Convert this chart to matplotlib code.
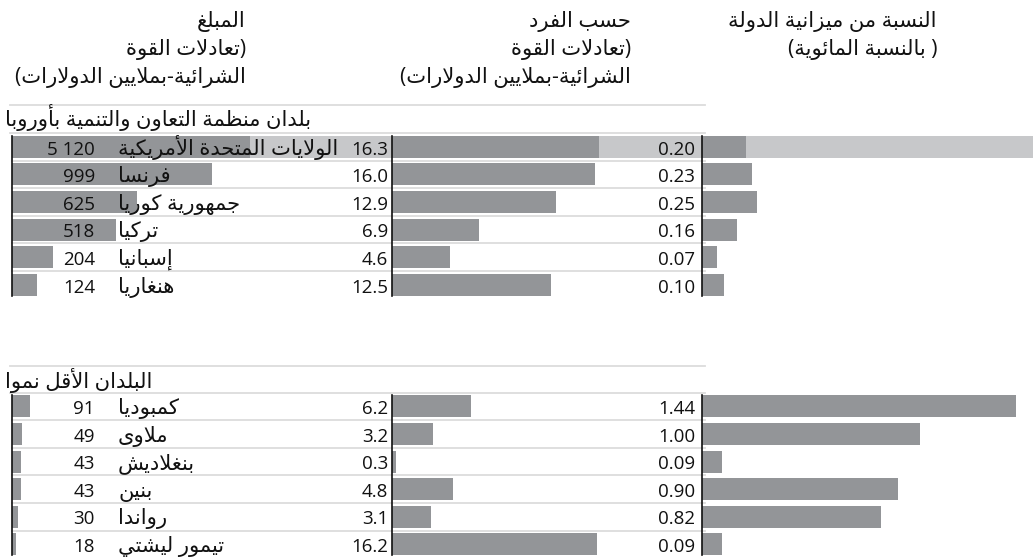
import matplotlib
matplotlib.use("Agg")
import matplotlib.pyplot as plt

# ---------------- data ----------------
group_titles = ["بلدان منظمة التعاون والتنمية بأوروبا", "البلدان الأقل نموا"]

countries_oecd = ["الولايات المتحدة الأمريكية", "فرنسا", "جمهورية كوريا", "تركيا", "إسبانيا", "هنغاريا"]
amount_oecd = [5120, 999, 625, 518, 204, 124]
percap_oecd = [16.3, 16.0, 12.9, 6.9, 4.6, 12.5]
share_oecd = [0.20, 0.23, 0.25, 0.16, 0.07, 0.10]

countries_ldc = ["كمبوديا", "ملاوى", "بنغلاديش", "بنين", "رواندا", "تيمور ليشتي"]
amount_ldc = [91, 49, 43, 43, 30, 18]
percap_ldc = [6.2, 3.2, 0.3, 4.8, 3.1, 16.2]
share_ldc = [1.44, 1.00, 0.09, 0.90, 0.82, 0.09]

highlight_country = "الولايات المتحدة الأمريكية"

header_amount = ["المبلغ", "(تعادلات القوة", "الشرائية-بملايين الدولارات)"]
header_percap = ["حسب الفرد", "(تعادلات القوة", "الشرائية-بملايين الدولارات)"]
header_share = ["النسبة من ميزانية الدولة", "( بالنسبة المائوية)"]

# ---------------- Arabic shaping + RTL ordering (matplotlib has no shaping engine) ----------------
_FORMS = {
    '\u0621': (0xFE80, 1), '\u0622': (0xFE81, 2), '\u0623': (0xFE83, 2), '\u0624': (0xFE85, 2),
    '\u0625': (0xFE87, 2), '\u0626': (0xFE89, 4), '\u0627': (0xFE8D, 2), '\u0628': (0xFE8F, 4),
    '\u0629': (0xFE93, 2), '\u062A': (0xFE95, 4), '\u062B': (0xFE99, 4), '\u062C': (0xFE9D, 4),
    '\u062D': (0xFEA1, 4), '\u062E': (0xFEA5, 4), '\u062F': (0xFEA9, 2), '\u0630': (0xFEAB, 2),
    '\u0631': (0xFEAD, 2), '\u0632': (0xFEAF, 2), '\u0633': (0xFEB1, 4), '\u0634': (0xFEB5, 4),
    '\u0635': (0xFEB9, 4), '\u0636': (0xFEBD, 4), '\u0637': (0xFEC1, 4), '\u0638': (0xFEC5, 4),
    '\u0639': (0xFEC9, 4), '\u063A': (0xFECD, 4), '\u0641': (0xFED1, 4), '\u0642': (0xFED5, 4),
    '\u0643': (0xFED9, 4), '\u0644': (0xFEDD, 4), '\u0645': (0xFEE1, 4), '\u0646': (0xFEE5, 4),
    '\u0647': (0xFEE9, 4), '\u0648': (0xFEED, 2), '\u0649': (0xFEEF, 2), '\u064A': (0xFEF1, 4),
}
_LAMALEF = {'\u0622': 0xFEF5, '\u0623': 0xFEF7, '\u0625': 0xFEF9, '\u0627': 0xFEFB}
_MIRROR = {'(': ')', ')': '('}


def ar(text):
    units = []
    i = 0
    while i < len(text):
        c = text[i]
        if c == '\u0644' and i + 1 < len(text) and text[i + 1] in _LAMALEF:
            units.append(('LA', text[i + 1]))
            i += 2
        else:
            units.append((c, None))
            i += 1
    out = []
    for k, (c, extra) in enumerate(units):
        prev = units[k - 1][0] if k > 0 else None
        nxt = units[k + 1][0] if k + 1 < len(units) else None
        cp = prev in _FORMS and _FORMS[prev][1] == 4
        if c == 'LA':
            base = _LAMALEF[extra]
            out.append(chr(base + 1 if cp else base))
            continue
        if c not in _FORMS:
            out.append(_MIRROR.get(c, c))
            continue
        base, nf = _FORMS[c]
        cn = nf == 4 and (nxt in _FORMS or nxt == 'LA')
        if nf == 1:
            out.append(chr(base))
        elif nf == 2:
            out.append(chr(base + 1 if cp else base))
        else:
            if cp and cn:
                out.append(chr(base + 3))
            elif cp:
                out.append(chr(base + 1))
            elif cn:
                out.append(chr(base + 2))
            else:
                out.append(chr(base))
    return ''.join(reversed(out))


# ---------------- figure ----------------
W, H = 1033, 558
plt.rcParams['font.family'] = ['Open Sans', 'DejaVu Sans']
FS = 13.5        # numbers
FS_AR = 15.2     # Arabic text
TXT = '#111111'
BAR = '#939598'
BAND = '#c7c8ca'
SEP = '#dcdcdc'
fig = plt.figure(figsize=(W / 100, H / 100), dpi=100)


def axes_px(x0, x1, y0, y1, **kw):
    return fig.add_axes([x0 / W, 1 - y1 / H, (x1 - x0) / W, (y1 - y0) / H], **kw)


def ftext(x, y, s, **kw):
    fig.text(x / W, 1 - y / H, s, fontsize=FS_AR, color=TXT, **kw)


# column headers
for i, line in enumerate(header_amount):
    ftext(246, 27 + 28 * i, ar(line), ha='right', va='baseline')
for i, line in enumerate(header_percap):
    ftext(631, 27 + 28 * i, ar(line), ha='right', va='baseline')
for i, line in enumerate(header_share):
    ftext(937, 27 + 28 * i, ar(line), ha='right', va='baseline')

X_AX1, X_AX1_END = 12, 250
X_AX2, X_AX3, X_END = 392, 702, 1033
SEP_END = 705
PX_AMOUNT = 0.2       # px per million
PX_PERCAP = 12.68     # px per unit
PX_SHARE = 218.0      # px per percent

groups = [
    (countries_oecd, amount_oecd, percap_oecd, share_oecd, 133.0, 105, 126),
    (countries_ldc, amount_ldc, percap_ldc, share_ldc, 392.5, 366, 388),
]
ROW = 27.6
BH = 22 / ROW

for gi, (names, amt, pc, sh, top, line_top, title_base) in enumerate(groups):
    n = len(names)
    bottom = top + ROW * n
    # group title and lines
    ftext(5, title_base, ar(group_titles[gi]), ha='left', va='baseline')
    fig.add_artist(plt.Line2D([10 / W, SEP_END / W], [1 - line_top / H] * 2, color=SEP, lw=1.3))
    fig.add_artist(plt.Line2D([10 / W, SEP_END / W], [1 - top / H] * 2, color=SEP, lw=1.3))

    bg = axes_px(0, W, top, bottom)
    bg.set_xlim(0, W)
    bg.set_ylim(n - 0.5, -0.5)
    bg.axis('off')
    for k in range(n - 1):
        bg.plot([X_AX1, SEP_END], [k + 0.5, k + 0.5], color=SEP, lw=1.3, zorder=0)
    for k, name in enumerate(names):
        if name == highlight_country:
            bg.fill_between([X_AX1, X_END], k - BH / 2, k + BH / 2, color=BAND, lw=0, zorder=0)

    a1 = axes_px(X_AX1, X_AX1_END, top, bottom)
    a2 = axes_px(X_AX2, X_AX3, top, bottom)
    a3 = axes_px(X_AX3, X_END, top, bottom)
    specs = [(a1, amt, X_AX1_END - X_AX1, PX_AMOUNT),
             (a2, pc, X_AX3 - X_AX2, PX_PERCAP),
             (a3, sh, X_END - X_AX3, PX_SHARE)]
    ys = list(range(n))
    for ax, vals, wpx, scale in specs:
        ax.patch.set_alpha(0)
        ax.barh(ys, vals, height=BH, color=BAR, lw=0)
        ax.set_xlim(0, wpx / scale)
        ax.set_ylim(n - 0.5, -0.5)
        for sp in ['top', 'right', 'bottom']:
            ax.spines[sp].set_visible(False)
        ax.spines['left'].set_color(TXT)
        ax.spines['left'].set_linewidth(1.2)
        ax.spines['left'].set_bounds(-0.5 + (1 - BH) / 2, n - 0.5 - (1 - BH) / 2)
        ax.set_xticks([])
        ax.set_yticks([])

    # text overlay
    tx = axes_px(0, W, top, bottom)
    tx.set_xlim(0, W)
    tx.set_ylim(n - 0.5, -0.5)
    tx.axis('off')
    tx.patch.set_alpha(0)
    for k in range(n):
        yb = k + 0.28
        tx.text(95, yb, f"{amt[k]:,}".replace(',', ' '), ha='right', va='baseline', fontsize=FS, color=TXT)
        tx.text(118, yb, ar(names[k]), ha='left', va='baseline', fontsize=FS_AR, color=TXT)
        tx.text(388, yb, f"{pc[k]:.1f}", ha='right', va='baseline', fontsize=FS, color=TXT)
        tx.text(695, yb, f"{sh[k]:.2f}", ha='right', va='baseline', fontsize=FS, color=TXT)

fig.savefig('out.png', dpi=100)
